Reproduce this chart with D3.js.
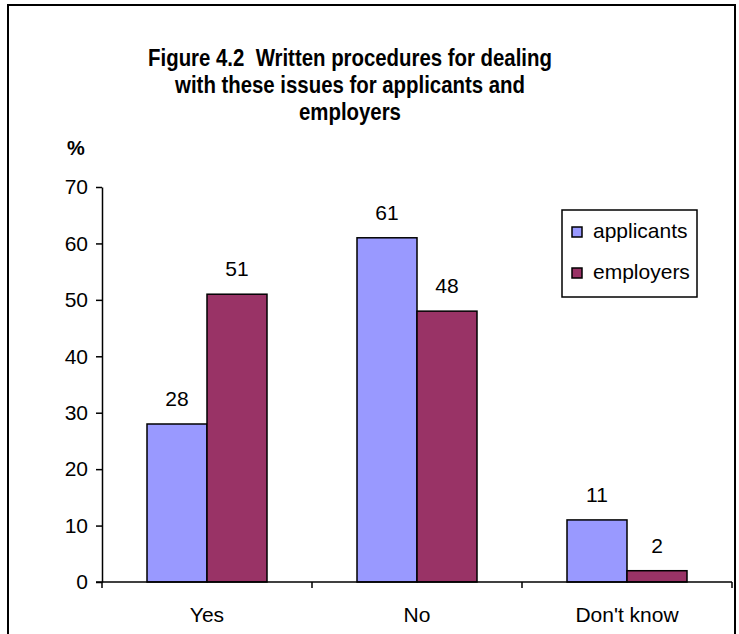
<!DOCTYPE html>
<html>
<head>
<meta charset="utf-8">
<script src="https://cdn.jsdelivr.net/npm/d3@7"></script>
<style>
  html, body { margin: 0; padding: 0; background: #fff; }
  svg { display: block; font-family: "Liberation Sans", Arial, sans-serif; }
  .title { white-space: pre; }
</style>
</head>
<body>
<svg id="chart" width="739" height="634"></svg>
<script>
// Survey answers, percentage of respondents
const categories = ["Yes", "No", "Don't know"];
const seriesNames = ["applicants", "employers"];
const applicants = [28, 61, 11];
const employers = [51, 48, 2];
const yTicks = [0, 10, 20, 30, 40, 50, 60, 70];
const titleLines = ["Figure 4.2  Written procedures for dealing", "with these issues for applicants and", "employers"];

const colors = { applicants: "#9999FF", employers: "#993366" };
const values = { applicants, employers };
const FONT = 21;

const svg = d3.select("#chart");

// outer frame
svg.append("rect")
  .attr("x", 8).attr("y", 5)
  .attr("width", 727).attr("height", 640)
  .attr("fill", "none").attr("stroke", "#000").attr("stroke-width", 2);

// title, slightly condensed bold
const titleCx = 350;
const titleG = svg.append("g");
const titleText = titleG.selectAll("text")
  .data(titleLines)
  .join("text")
  .attr("class", "title")
  .attr("x", 0)
  .attr("y", (d, i) => 66 + i * 27)
  .attr("text-anchor", "middle")
  .attr("font-weight", "bold")
  .attr("font-size", 23)
  .text(d => d);
const w0 = titleText.nodes()[0].getComputedTextLength();
const sx = Math.min(1, 404 / w0);
titleG.attr("transform", `translate(${titleCx},0) scale(${sx},1)`);

const plot = { left: 102, right: 732, top: 187, bottom: 582 };

const x0 = d3.scaleBand()
  .domain(categories)
  .range([plot.left, plot.right])
  .paddingInner(0.4286)
  .paddingOuter(0.2143);

const x1 = d3.scaleBand()
  .domain(seriesNames)
  .range([0, x0.bandwidth()]);

const y = d3.scaleLinear()
  .domain([0, 70])
  .range([plot.bottom, plot.top]);

// bars
const groups = svg.append("g").selectAll("g")
  .data(categories)
  .join("g")
  .attr("transform", d => `translate(${x0(d)},0)`);

groups.selectAll("rect")
  .data((c, i) => seriesNames.map(s => ({ s, v: values[s][i] })))
  .join("rect")
  .attr("x", d => x1(d.s))
  .attr("y", d => y(d.v))
  .attr("width", x1.bandwidth())
  .attr("height", d => y(0) - y(d.v))
  .attr("fill", d => colors[d.s])
  .attr("stroke", "#000")
  .attr("stroke-width", 1.5);

groups.selectAll("text")
  .data((c, i) => seriesNames.map(s => ({ s, v: values[s][i] })))
  .join("text")
  .attr("x", d => x1(d.s) + x1.bandwidth() / 2)
  .attr("y", d => y(d.v) - 18)
  .attr("text-anchor", "middle")
  .attr("font-size", FONT)
  .text(d => d.v);

// y axis
const yAxis = svg.append("g")
  .attr("transform", `translate(${plot.left},0)`)
  .call(d3.axisLeft(y).tickValues(yTicks).tickSize(6).tickPadding(8).tickSizeOuter(0));
yAxis.select(".domain").attr("stroke-width", 1.5);
yAxis.selectAll(".tick line").attr("stroke-width", 1.5);
yAxis.selectAll("text").attr("font-size", FONT).attr("fill", "#000")
  .attr("font-family", "Liberation Sans, Arial, sans-serif");

// x axis with ticks at category boundaries
const boundaries = categories.map(c => x0(c) - x0.step() * x0.paddingInner() / 2)
  .concat([plot.right]);
const xAxisG = svg.append("g");
xAxisG.append("line")
  .attr("x1", plot.left - 6).attr("x2", plot.right)
  .attr("y1", plot.bottom).attr("y2", plot.bottom)
  .attr("stroke", "#000").attr("stroke-width", 1.5);
xAxisG.selectAll(".bt")
  .data(boundaries)
  .join("line")
  .attr("class", "bt")
  .attr("x1", d => d).attr("x2", d => d)
  .attr("y1", plot.bottom).attr("y2", plot.bottom + 6)
  .attr("stroke", "#000").attr("stroke-width", 1.5);
xAxisG.selectAll("text")
  .data(categories)
  .join("text")
  .attr("x", d => x0(d) + x0.bandwidth() / 2)
  .attr("y", plot.bottom + 40)
  .attr("text-anchor", "middle")
  .attr("font-size", FONT)
  .text(d => d);

// unit label
svg.append("text")
  .attr("x", 76).attr("y", 155)
  .attr("text-anchor", "middle")
  .attr("font-weight", "bold")
  .attr("font-size", 20)
  .text("%");

// legend
const legend = svg.append("g").attr("transform", "translate(562,210)");
legend.append("rect")
  .attr("width", 135).attr("height", 87)
  .attr("fill", "#fff").attr("stroke", "#000").attr("stroke-width", 1.5);
const items = legend.selectAll("g.item")
  .data(seriesNames)
  .join("g")
  .attr("class", "item")
  .attr("transform", (d, i) => `translate(0,${22 + i * 41})`);
items.append("rect")
  .attr("x", 10).attr("y", -5)
  .attr("width", 10).attr("height", 10)
  .attr("fill", d => colors[d]).attr("stroke", "#000").attr("stroke-width", 1.5);
items.append("text")
  .attr("x", 31).attr("y", 6)
  .attr("font-size", FONT)
  .text(d => d);
</script>
</body>
</html>
